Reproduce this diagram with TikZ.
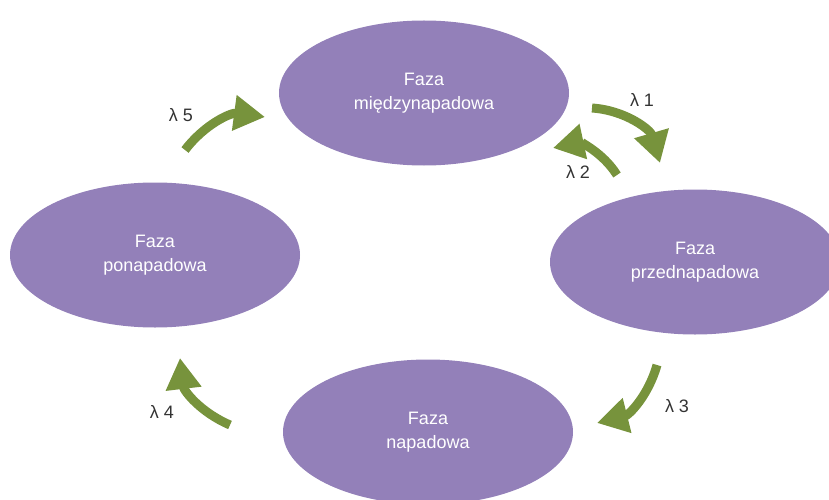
\documentclass[tikz,border=0pt]{standalone}
\usepackage{fontspec}
\setmainfont{Liberation Sans}
\usepackage{xcolor}
\usepackage{tikz}
\usetikzlibrary{arrows.meta, positioning, shapes}
\definecolor{phase}{HTML}{9380B9}
\definecolor{olive}{HTML}{77933C}
\definecolor{labelgray}{HTML}{333333}

\begin{document}
\begin{tikzpicture}[
    x=1pt, y=1pt,
    phase/.style={ellipse, fill=phase, minimum width=290pt, minimum height=145pt, align=center, text=white, font=\fontsize{18}{24}\selectfont},
    cyc/.style={-{Triangle[length=31pt, width=34pt]}, line width=9pt, olive},
    rate/.style={text=labelgray, font=\fontsize{18}{22}\selectfont}
]
\useasboundingbox (0,0) rectangle (829,499);

% Phases
\node (inter) [phase] at (424,406) {Faza\\międzynapadowa};
\node (pre) [phase] at (695,237) {Faza\\przednapadowa};
\node (ictal) [phase] at (428,67) {Faza\\napadowa};
\node (post) [phase] at (155,244) {Faza\\ponapadowa};

% Arrow ends
\coordinate (a1) at (592,391); \coordinate (b1) at (660,336);
\coordinate (a2) at (617,324); \coordinate (b2) at (553,351);
\coordinate (a3) at (657,134); \coordinate (b3) at (597,76);
\coordinate (a4) at (230,74);  \coordinate (b4) at (180,141);
\coordinate (a5) at (185,349); \coordinate (b5) at (265,382);

% Transitions
\draw [cyc] (a1) to[bend left=35] (b1);
\draw [cyc] (a2) to[bend right=35] (b2);
\draw [cyc] (a3) to[bend left=30] (b3);
\draw [cyc] (a4) to[bend left=30] (b4);
\draw [cyc] (a5) to[bend left=30] (b5);

% Labels
\node (l1) [rate] at (642,399) {λ 1};
\node (l2) [rate] at (578,327) {λ 2};
\node (l3) [rate] at (677,93) {λ 3};
\node (l4) [rate] at (162,87) {λ 4};
\node (l5) [rate] at (181,384) {λ 5};

\end{tikzpicture}
\end{document}
